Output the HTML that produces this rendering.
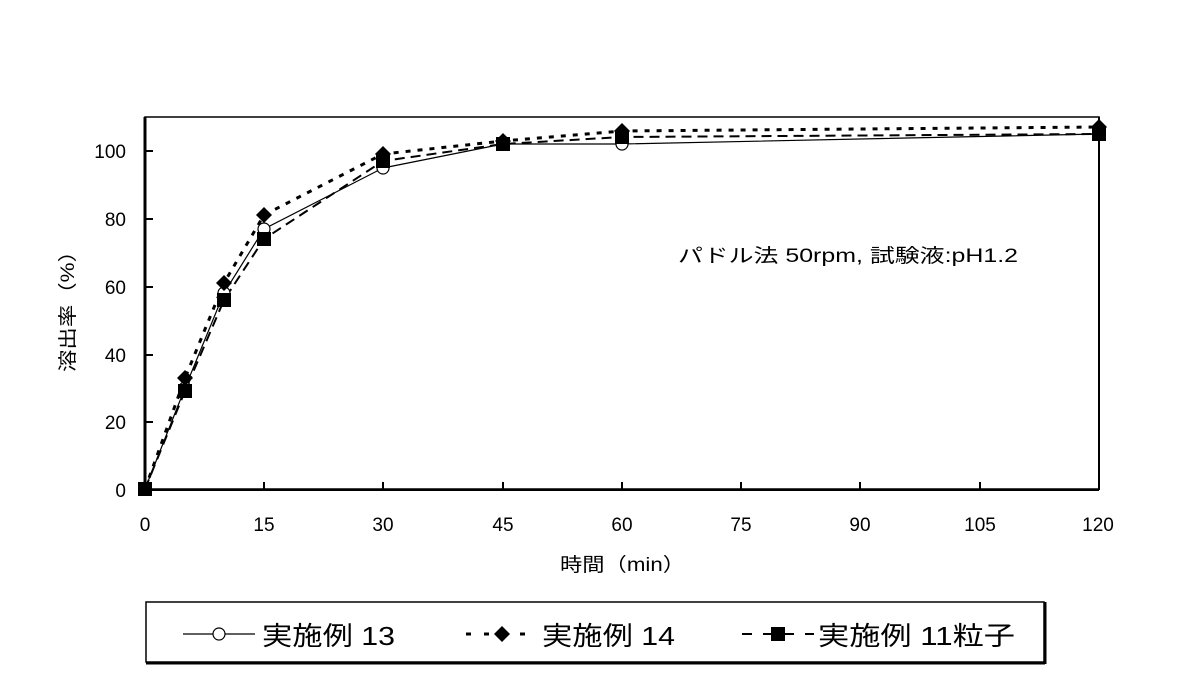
<!DOCTYPE html>
<html><head><meta charset="utf-8"><style>
body{margin:0;background:#fff}
svg text{font-family:"Liberation Sans","Noto Sans CJK JP",sans-serif;fill:#000}
</style></head><body>
<svg width="1181" height="693" viewBox="0 0 1181 693" xmlns="http://www.w3.org/2000/svg">
<rect width="1181" height="693" fill="#fff"/>
<rect x="145" y="117" width="954" height="372" fill="none" stroke="#000" stroke-width="1.5"/>
<line x1="145" y1="117" x2="145" y2="490" stroke="#000" stroke-width="3"/>
<line x1="145" y1="490" x2="1099" y2="490" stroke="#000" stroke-width="2"/>
<line x1="1099" y1="117" x2="1099" y2="490" stroke="#000" stroke-width="2"/>
<g stroke="#000" stroke-width="2">
<line x1="145" y1="151" x2="153" y2="151"/><line x1="145" y1="219" x2="153" y2="219"/>
<line x1="145" y1="287" x2="153" y2="287"/><line x1="145" y1="355" x2="153" y2="355"/>
<line x1="145" y1="422" x2="153" y2="422"/>
<line x1="264" y1="482" x2="264" y2="490"/><line x1="383" y1="482" x2="383" y2="490"/>
<line x1="503" y1="482" x2="503" y2="490"/><line x1="622" y1="482" x2="622" y2="490"/>
<line x1="741" y1="482" x2="741" y2="490"/><line x1="860" y1="482" x2="860" y2="490"/>
<line x1="980" y1="482" x2="980" y2="490"/>
</g>
<g font-size="19" text-anchor="end">
<text x="126" y="497">0</text><text x="126" y="429">20</text><text x="126" y="362">40</text>
<text x="126" y="294">60</text><text x="126" y="226">80</text><text x="126" y="158">100</text>
</g>
<g font-size="19" text-anchor="middle">
<text x="145" y="531">0</text><text x="264" y="531">15</text><text x="383" y="531">30</text>
<text x="503" y="531">45</text><text x="622" y="531">60</text><text x="741" y="531">75</text>
<text x="860" y="531">90</text><text x="980" y="531">105</text><text x="1098" y="531">120</text>
</g>
<text x="560" y="571" font-size="19" textLength="125" lengthAdjust="spacingAndGlyphs">時間（min）</text>
<text font-size="19" transform="translate(74,372) rotate(-90)" textLength="132" lengthAdjust="spacingAndGlyphs">溶出率（%）</text>
<text x="678" y="262" font-size="19" textLength="340" lengthAdjust="spacingAndGlyphs">パドル法 50rpm, 試験液:pH1.2</text>
<polyline fill="none" stroke="#000" stroke-width="1.2" points="145,489 185,388 224,293 264,229 383,168 503,144 622,144 1099,134"/>
<polyline fill="none" stroke="#000" stroke-width="3" stroke-dasharray="5,7" points="145,489 185,378 224,283 264,215 383,154 503,141 622,131 1099,127"/>
<polyline fill="none" stroke="#000" stroke-width="2" stroke-dasharray="10,6" points="145,489 185,391 224,300 264,239 383,161 503,144 622,137 1099,134"/>
<g fill="#fff" stroke="#000" stroke-width="1.2">
<circle cx="185" cy="388" r="6"/><circle cx="224" cy="293" r="6"/><circle cx="264" cy="229" r="6"/>
<circle cx="383" cy="168" r="6"/><circle cx="503" cy="144" r="6"/><circle cx="622" cy="144" r="6"/>
</g>
<g fill="#000">
<path d="M185 370l8 8-8 8-8-8z"/><path d="M224 275l8 8-8 8-8-8z"/><path d="M264 207l8 8-8 8-8-8z"/>
<path d="M383 146l8 8-8 8-8-8z"/><path d="M503 133l8 8-8 8-8-8z"/><path d="M622 123l8 8-8 8-8-8z"/><path d="M1099 119l8 8-8 8-8-8z"/>
<rect x="138" y="482" width="14" height="14"/><rect x="178" y="384" width="14" height="14"/>
<rect x="217" y="293" width="14" height="14"/><rect x="257" y="232" width="14" height="14"/>
<rect x="376" y="154" width="14" height="14"/><rect x="496" y="137" width="14" height="14"/>
<rect x="615" y="130" width="14" height="14"/><rect x="1092" y="127" width="14" height="14"/>
</g>
<rect x="146" y="602" width="898" height="60" fill="#fff" stroke="#000" stroke-width="1.5"/>
<line x1="146" y1="663" x2="1045" y2="663" stroke="#000" stroke-width="3"/>
<line x1="1045" y1="602" x2="1045" y2="664" stroke="#000" stroke-width="3"/>
<line x1="183" y1="634" x2="255" y2="634" stroke="#000" stroke-width="1.2"/>
<circle cx="219" cy="634" r="6" fill="#fff" stroke="#000" stroke-width="1.2"/>
<line x1="466" y1="634" x2="538" y2="634" stroke="#000" stroke-width="3" stroke-dasharray="5,13"/>
<path d="M502 626l8 8-8 8-8-8z" fill="#000"/>
<line x1="742" y1="634" x2="814" y2="634" stroke="#000" stroke-width="2" stroke-dasharray="10,11"/>
<rect x="771" y="627" width="14" height="14" fill="#000"/>
<g font-size="26">
<text x="262" y="645" textLength="133" lengthAdjust="spacingAndGlyphs">実施例 13</text>
<text x="542" y="645" textLength="133" lengthAdjust="spacingAndGlyphs">実施例 14</text>
<text x="818" y="645" textLength="197" lengthAdjust="spacingAndGlyphs">実施例 11粒子</text>
</g>
</svg>
</body></html>
